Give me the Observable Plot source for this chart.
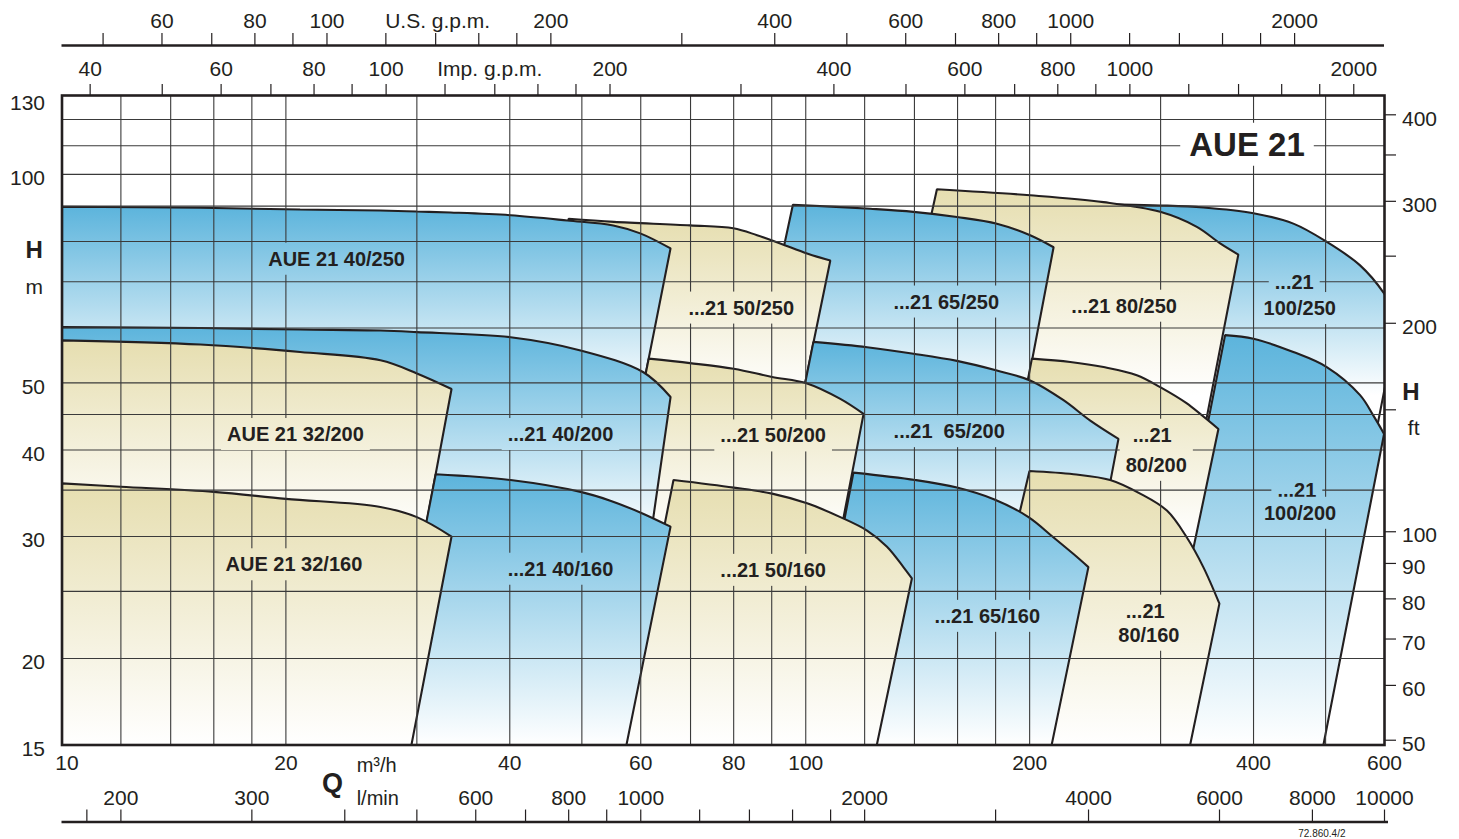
<!DOCTYPE html>
<html>
<head>
<meta charset="utf-8">
<script src="https://cdn.jsdelivr.net/npm/d3@7"></script>
<script src="https://cdn.jsdelivr.net/npm/@observablehq/plot@0.6"></script>
<style>
html, body { margin: 0; padding: 0; background: #fff; }
#chart svg { display: block; }
</style>
</head>
<body>
<div id="chart"></div>
<script>
// ---------------- DATA ----------------
// pump models, in drawing order (back to front)
const models = ["100/250","80/250","65/250","50/250","40/250","100/200","80/200","65/200","50/200","40/200","32/200","80/160","65/160","50/160","40/160","32/160"];
const families = ["blue","beige","blue","beige","blue","blue","beige","blue","beige","blue","beige","beige","blue","beige","blue","beige"];
// maximum-impeller Q-H curves: Q in m3/h, H in m
const topQ = [
  [219.9, 299.6, 342.4, 399.9, 452.5, 501.8, 556.3, 599.2, 625.7],
  [150.1, 200.3, 251.4, 299.6, 335.6, 360.7, 381.6],
  [96.1, 122.1, 139.6, 159.7, 180.7, 200.3, 215.4],
  [48.0, 55.2, 69.9, 79.9, 86.0, 92.4, 100.4, 107.9],
  [10, 15.35, 20.9, 26.8, 30.0, 33.3, 40.1, 47.8, 55.1, 59.9, 65.8],
  [366.3, 399.9, 452.5, 501.8, 556.3, 580, 599.2],
  [201.4, 226.8, 251.4, 278.7, 299.6, 325.4, 358.8],
  [102.4, 120.9, 139.6, 159.7, 180.7, 200.3, 222.1, 241.3, 263.3],
  [61.5, 69.9, 80.0, 90.1, 100.4, 111.3, 119.6],
  [10, 15.35, 20.9, 26.8, 30.0, 40.1, 49.8, 60.5, 65.8],
  [10, 15.35, 20.9, 26.8, 30.0, 33.4],
  [199.9, 229.1, 256.6, 281.6, 305.9, 325.4, 342.4, 359.9],
  [115.9, 140.4, 159.7, 179.7, 199.3, 215.4, 229.1, 239.9],
  [66.4, 80.0, 90.1, 100.4, 111.3, 120.9, 128.6, 135.3, 138.9],
  [31.8, 40.1, 49.8, 54.6, 59.9, 65.8],
  [10, 12.0, 16.0, 20.0, 26.8, 30.0, 33.4]
];
const topH = [
  [90.8, 90.2, 89.6, 87.9, 84.9, 79.9, 73.9, 67.3, 61.6],
  [95.2, 93.3, 91.2, 88.3, 84.0, 79.5, 76.6],
  [90.4, 89.2, 88.3, 86.8, 84.9, 81.7, 78.5],
  [86.3, 85.4, 84.4, 83.6, 81.7, 79.5, 76.9, 75.1],
  [89.8, 89.5, 89.0, 88.7, 88.4, 88.1, 87.3, 85.8, 84.4, 82.2, 78.2],
  [58.6, 57.9, 55.4, 52.7, 48.0, 44.8, 42.2],
  [54.2, 53.6, 52.7, 51.3, 49.3, 46.7, 42.9],
  [57.3, 56.3, 55.1, 53.8, 52.1, 50.4, 47.2, 44.1, 41.5],
  [54.2, 53.4, 52.4, 51.0, 49.9, 47.4, 45.1],
  [60.2, 60.0, 59.7, 59.5, 59.2, 58.2, 55.7, 51.8, 47.7],
  [57.6, 56.8, 55.4, 53.9, 51.6, 49.0],
  [37.3, 36.9, 36.2, 34.6, 32.7, 29.9, 27.1, 24.0],
  [37.1, 36.2, 35.3, 33.9, 32.0, 29.9, 28.3, 27.1],
  [36.2, 35.3, 34.6, 33.5, 32.0, 30.6, 29.0, 27.1, 26.1],
  [36.9, 36.2, 34.8, 33.8, 32.5, 31.0],
  [35.8, 35.4, 34.8, 34.0, 33.1, 32.0, 30.0]
];
// where the left / right limit lines of each field reach the chart floor (Q at H = 15 m)
const leftFootQ  = [157.3, 102.8, 67.1, 34.6, 10, 285.4, 160.5, 79.8, 48.4, 10, 10, 163.5, 98.6, 56.4, 27.0, 10];
const rightFootQ = [483.6, 284.3, 160.6, 79.3, 48.5, 496.6, 292.2, 219.9, 98.1, 56.4, 27.2, 328.7, 214.1, 124.6, 57.4, 29.5];
const floorH = 15;

// field labels
const labelText  = ["AUE 21 40/250","...21 50/250","...21 65/250","...21 80/250","...21","100/250","AUE 21 32/200","...21 40/200","...21 50/200","...21  65/200","...21","80/200","...21","100/200","AUE 21 32/160","...21 40/160","...21 50/160","...21 65/160","...21","80/160"];
const labelModel = ["40/250","50/250","65/250","80/250","100/250","100/250","32/200","40/200","50/200","65/200","80/200","80/200","100/200","100/200","32/160","40/160","50/160","65/160","80/160","80/160"];
const labelQ = [23.4, 81.9, 154.5, 268.0, 453.7, 461.5, 20.6, 46.8, 90.4, 155.9, 292.3, 296.0, 457.4, 462.0, 20.5, 46.8, 90.4, 175.4, 286.0, 289.3];
const labelH = [75.4, 64.1, 65.4, 64.5, 69.7, 64.0, 42.1, 42.1, 41.9, 42.5, 42.0, 38.0, 35.0, 32.4, 27.3, 26.9, 26.8, 23.0, 23.4, 21.6];
const titleText = ["AUE 21"];
const titleQ = [392];
const titleH = [110.2];

// axes
const qTickLabels = [10, 20, 40, 60, 80, 100, 200, 400, 600];
const hTickLabels = [15, 20, 30, 40, 50, 100, 130];
const gridQ = [12, 14, 16, 18, 20, 30, 40, 50, 60, 70, 80, 90, 100, 120, 140, 160, 180, 200, 300, 400, 500];
const gridH = [20, 25, 30, 35, 40, 45, 50, 60, 70, 80, 90, 100, 110, 120];
const usGpmTicks  = [50,60,70,80,90,100,120,140,160,180,200,300,400,500,600,700,800,900,1000,1200,1400,1600,1800,2000];
const usGpmLabels = [60,80,100,200,400,600,800,1000,2000];
const impGpmTicks  = [40,50,60,70,80,90,100,120,140,160,180,200,300,400,500,600,700,800,900,1000,1200,1400,1600,1800,2000];
const impGpmLabels = [40,60,80,100,200,400,600,800,1000,2000];
const lminTicks  = [180,200,300,400,500,600,700,800,900,1000,1200,1400,1600,1800,2000,3000,4000,6000,8000,10000];
const lminLabels = [200,300,600,800,1000,2000,4000,6000,8000,10000];
const ftTicks  = [50,60,70,80,90,100,150,200,250,300,350,400];
const ftLabels = [50,60,70,80,90,100,200,300,400];
const US_GPM = 4.40287, IMP_GPM = 3.66615, L_MIN = 16.6667, FT = 3.28084;

// ---------------- STYLE ----------------
const ink = "#231f20";
const gridColor = "#3a3a3a";
const font = "'Liberation Sans', Arial, Helvetica, sans-serif";
const topColor = {blue: "#5cb4dc", beige: "#e6deb0"};
function fadeFor(m) {
  if (m === "100/200" || m.endsWith("/160")) return 15;
  if (m.endsWith("/200")) return 30;
  return 48;
}

// curve: straight limit lines, smooth Catmull-Rom along the Q-H curve
function fieldCurve(context) {
  let pts;
  return {
    areaStart() {}, areaEnd() {},
    lineStart() { pts = []; },
    point(x, y) { pts.push([+x, +y]); },
    lineEnd() {
      const n = pts.length;
      if (!n) return;
      context.moveTo(pts[0][0], pts[0][1]);
      if (n < 5) { for (let i = 1; i < n; ++i) context.lineTo(pts[i][0], pts[i][1]); return; }
      context.lineTo(pts[1][0], pts[1][1]);
      const proxy = {
        moveTo(x, y) { context.lineTo(x, y); },
        lineTo(x, y) { context.lineTo(x, y); },
        bezierCurveTo(a, b, c, d, e, f) { context.bezierCurveTo(a, b, c, d, e, f); },
        closePath() {}
      };
      const c = d3.curveCatmullRom.alpha(0.5)(proxy);
      c.lineStart();
      for (let i = 1; i <= n - 3; ++i) c.point(pts[i][0], pts[i][1]);
      c.lineEnd();
      for (let i = n - 2; i < n; ++i) context.lineTo(pts[i][0], pts[i][1]);
      context.closePath();
    }
  };
}

const regionMarks = models.map((m, i) => {
  const pts = [{q: leftFootQ[i], h: floorH}]
    .concat(topQ[i].map((q, j) => ({q, h: topH[i][j]})))
    .concat([{q: rightFootQ[i], h: floorH}, {q: leftFootQ[i], h: floorH}]);
  return Plot.line(pts, {
    x: "q", y: "h", curve: fieldCurve,
    fill: `url(#grad${i})`, stroke: ink, strokeWidth: 2.1,
    strokeLinejoin: "miter", clip: true
  });
});

const txt = {fill: ink, fontFamily: font, lineAnchor: "middle"};

const svg = Plot.plot({
  width: 1459,
  height: 839,
  marginLeft: 61.5,
  marginRight: 75,
  marginTop: 95,
  marginBottom: 94.5,
  x: {type: "log", domain: [10, 600], axis: null},
  y: {type: "log", domain: [15, 130], axis: null},
  style: {fontFamily: font, fontSize: "21px", color: ink, background: "#fff", overflow: "visible"},
  marks: [
    ...regionMarks,
    // grid
    Plot.ruleX(gridQ, {x: d => d, stroke: gridColor, strokeWidth: 1.1}),
    Plot.ruleY(gridH, {y: d => d, stroke: gridColor, strokeWidth: 1.1}),
    Plot.frame({stroke: ink, strokeWidth: 2.6}),

    // bottom m3/h axis labels
    Plot.text(qTickLabels.filter(d => d !== 10), {x: d => d, text: d => String(d), frameAnchor: "bottom", dy: 18.5, fontSize: 21, ...txt}),
    Plot.text([10], {x: d => d, text: d => String(d), frameAnchor: "bottom", dy: 18.5, dx: 5, fontSize: 21, ...txt}),
    Plot.text(["m³/h"], {x: () => 24.9, text: d => d, frameAnchor: "bottom", dy: 21, textAnchor: "start", fontSize: 20, ...txt}),
    Plot.text(["Q"], {x: () => 23.1, text: d => d, frameAnchor: "bottom", dy: 38.5, fontSize: 27, fontWeight: "bold", ...txt}),

    // l/min axis
    Plot.ruleY([floorH], {y: d => d, dy: 77, strokeWidth: 2.6, stroke: ink, insetRight: -4}),
    Plot.ruleX(lminTicks, {x: d => d / L_MIN, y1: floorH, y2: floorH, insetTop: -12, dy: 77, stroke: ink, strokeWidth: 1.2}),
    Plot.text(lminLabels, {x: d => d / L_MIN, text: d => String(d), frameAnchor: "bottom", dy: 53.5, fontSize: 21, ...txt}),
    Plot.text(["l/min"], {x: () => 24.9, text: d => d, frameAnchor: "bottom", dy: 53.5, textAnchor: "start", fontSize: 20, ...txt}),

    // Imp. g.p.m. axis (on the frame top)
    Plot.ruleX(impGpmTicks, {x: d => d / IMP_GPM, y1: 130, y2: 130, insetTop: -11, stroke: ink, strokeWidth: 1.2}),
    Plot.text(impGpmLabels, {x: d => d / IMP_GPM, text: d => String(d), frameAnchor: "top", dy: -26, fontSize: 21, ...txt}),
    Plot.text(["Imp. g.p.m."], {x: () => 140 / IMP_GPM, text: d => d, frameAnchor: "top", dy: -26, dx: -5, fontSize: 21, ...txt}),

    // U.S. g.p.m. axis
    Plot.ruleY([130], {y: d => d, dy: -50, strokeWidth: 2.6, stroke: ink}),
    Plot.ruleX(usGpmTicks, {x: d => d / US_GPM, y1: 130, y2: 130, insetTop: -12, dy: -50, stroke: ink, strokeWidth: 1.2}),
    Plot.text(usGpmLabels, {x: d => d / US_GPM, text: d => String(d), frameAnchor: "top", dy: -74, fontSize: 21, ...txt}),
    Plot.text(["U.S. g.p.m."], {x: () => 140 / US_GPM, text: d => d, frameAnchor: "top", dy: -74, dx: 2, fontSize: 21, ...txt}),

    // left H (m) axis
    Plot.text(hTickLabels.filter(d => d !== 130), {y: d => d, text: d => String(d), frameAnchor: "left", dx: -17, dy: 4, textAnchor: "end", fontSize: 21, ...txt}),
    Plot.text([130], {y: d => d, text: d => String(d), frameAnchor: "left", dx: -17, dy: 8, textAnchor: "end", fontSize: 21, ...txt}),
    Plot.text(["H"], {text: d => d, frameAnchor: "top-left", dx: -36.5, dy: 155, fontSize: 24, fontWeight: "bold", ...txt}),
    Plot.text(["m"], {text: d => d, frameAnchor: "top-left", dx: -36.5, dy: 192, fontSize: 21, ...txt}),

    // right H (ft) axis
    Plot.ruleY(ftTicks, {y: d => d / FT, x1: 600, x2: 600, insetRight: -12, stroke: ink, strokeWidth: 1.2}),
    Plot.text(ftLabels, {y: d => d / FT, text: d => String(d), frameAnchor: "right", dx: 17.5, dy: 4, textAnchor: "start", fontSize: 21, ...txt}),
    Plot.text(["H"], {text: d => d, frameAnchor: "top-right", dx: 35, dy: 297, fontSize: 24, fontWeight: "bold", ...txt}),
    Plot.text(["ft"], {text: d => d, frameAnchor: "top-right", dx: 35, dy: 333, fontSize: 21, ...txt}),

    // field labels
    Plot.text(labelText, {x: (d, i) => labelQ[i], y: (d, i) => labelH[i], text: d => d, fontSize: 20, fontWeight: "bold", ariaDescription: "region-labels", ...txt}),
    // title
    Plot.text(titleText, {x: (d, i) => titleQ[i], y: (d, i) => titleH[i], text: d => d, fontSize: 33, fontWeight: "bold", ariaDescription: "chart-title", ...txt}),
    // drawing number
    Plot.text(["72.860.4/2"], {text: d => d, frameAnchor: "bottom-right", dx: -39, dy: 88.5, fontSize: 10, ...txt})
  ]
});

document.getElementById("chart").append(svg);

// ---------------- gradients & label knock-outs ----------------
const ns = "http://www.w3.org/2000/svg";
const ysc = svg.scale("y");
const ys = d3.scaleLog().domain(ysc.domain).range(ysc.range);
const defs = document.createElementNS(ns, "defs");
models.forEach((m, i) => {
  const g = document.createElementNS(ns, "linearGradient");
  g.setAttribute("id", "grad" + i);
  g.setAttribute("gradientUnits", "userSpaceOnUse");
  g.setAttribute("x1", 0); g.setAttribute("x2", 0);
  g.setAttribute("y1", ys(d3.max(topH[i])));
  g.setAttribute("y2", ys(fadeFor(m)));
  [[0, topColor[families[i]]], [1, "#ffffff"]].forEach(([o, c]) => {
    const s = document.createElementNS(ns, "stop");
    s.setAttribute("offset", o);
    s.setAttribute("stop-color", c);
    g.append(s);
  });
  defs.append(g);
});
svg.insertBefore(defs, svg.firstChild);

function findGroup(desc, firstText, count) {
  let g = svg.querySelector(`g[aria-description="${desc}"]`);
  if (g) return g;
  for (const cand of svg.querySelectorAll("g")) {
    const ts = cand.querySelectorAll(":scope > text");
    if (ts.length === count && ts[0].textContent === firstText) return cand;
  }
  return null;
}
function knockOut(group, fillFor, padX, padY) {
  if (!group) return;
  const texts = Array.from(group.querySelectorAll("text"));
  texts.forEach((t, j) => {
    const bb = t.getBBox();
    let e = 0, f = 0;
    if (t.transform && t.transform.baseVal && t.transform.baseVal.numberOfItems) {
      const mtx = t.transform.baseVal.consolidate().matrix;
      e = mtx.e; f = mtx.f;
    }
    const r = document.createElementNS(ns, "rect");
    r.setAttribute("x", bb.x + e - padX);
    r.setAttribute("y", bb.y + f - padY);
    r.setAttribute("width", bb.width + 2 * padX);
    r.setAttribute("height", bb.height + 2 * padY);
    r.setAttribute("fill", fillFor(j));
    r.setAttribute("stroke", "none");
    t.parentNode.insertBefore(r, t);
  });
}
knockOut(findGroup("region-labels", labelText[0], labelText.length),
  j => `url(#grad${models.indexOf(labelModel[j])})`, 6, 5);
knockOut(findGroup("chart-title", titleText[0], 1), () => "#ffffff", 9, 3);
</script>
</body>
</html>
